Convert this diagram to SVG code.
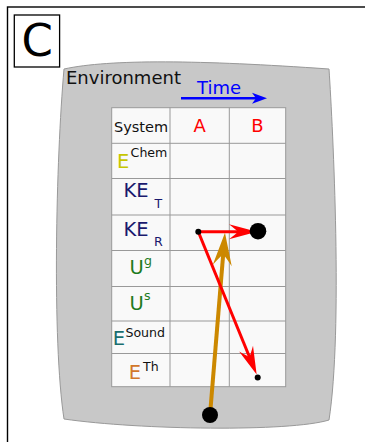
<svg xmlns="http://www.w3.org/2000/svg" width="365" height="442" viewBox="0 0 365 442">
<defs>
<style>
text{font-family:"DejaVu Sans","Liberation Sans",sans-serif}
.grid{stroke:#999;stroke-width:1;fill:none}
.lbl{font-size:19.5px}
.sup{font-size:12.6px}
.red{stroke:#ff0000;stroke-width:3;fill:none}
.gold{stroke:#cc8800;stroke-width:4;fill:none}
</style>
<marker id="ahRed" viewBox="-34 -10 36 20" markerWidth="36" markerHeight="20" refX="-16" refY="0" markerUnits="userSpaceOnUse" orient="auto" overflow="visible">
<path d="M0,0 L-28,-7.5 Q-21,-2 -19,0 Q-21,2 -28,7.5 Z" fill="#ff0000"/>
</marker>
<marker id="ahGold" viewBox="-36 -12 38 24" markerWidth="38" markerHeight="24" refX="-18" refY="0" markerUnits="userSpaceOnUse" orient="auto" overflow="visible">
<path d="M0,0 L-33,-9.5 Q-24,-2.5 -22,0 Q-24,2.5 -33,9.5 Z" fill="#cc8800"/>
</marker>
<marker id="ahBlue" viewBox="-16 -8 18 16" markerWidth="18" markerHeight="16" refX="-8" refY="0" markerUnits="userSpaceOnUse" orient="auto" overflow="visible">
<path d="M0,0 L-15,-5.5 L-11,0 L-15,5.5 Z" fill="#0000ff"/>
</marker>
</defs>
<rect width="365" height="442" fill="#ffffff"/>
<rect x="7.5" y="7" width="420" height="460" fill="#ffffff" stroke="#000" stroke-width="1.4"/>
<g id="panel-label">
<rect x="14.3" y="15" width="45.3" height="52" fill="#ffffff" stroke="#000" stroke-width="1.3"/>
<text x="37.3" y="56" font-size="45" text-anchor="middle" fill="#000">C</text>
</g>
<g id="environment">
<path d="M64,69 C110,59 200,60 329,69 C333,130 343,330 329,420 C290,432 140,430 64,419 C52,340 56,160 64,69 Z" fill="#c8c8c8" stroke="#999" stroke-width="1"/>
<text x="66" y="84" font-size="18" fill="#111">Environment</text>
</g>
<g id="time">
<text x="197" y="94.3" font-size="18" fill="#0000ff">Time</text>
</g>
<g id="table">
<rect x="111.7" y="107.7" width="174" height="279" fill="#f9f9f9" stroke="#999" stroke-width="1"/>
<path class="grid" d="M170,107.7V386.7M229.3,107.7V386.7M111.7,143.3H285.7M111.7,178.5H285.7M111.7,215H285.7M111.7,250.5H285.7M111.7,286.5H285.7M111.7,321H285.7M111.7,353.5H285.7"/>
<text x="141" y="131.7" font-size="14.5" text-anchor="middle" fill="#111">System</text>
<text x="199.7" y="132" font-size="18" text-anchor="middle" fill="#ff0000">A</text>
<text x="257.5" y="132" font-size="18" text-anchor="middle" fill="#ff0000">B</text>
</g>
<g id="row-echem">
<text><tspan class="lbl" x="117.1" y="168.3" fill="#c6c600">E</tspan><tspan class="sup" x="130.6" y="156.7" fill="#111">Chem</tspan></text>
</g>
<g id="row-ket">
<text><tspan class="lbl" x="123.4" y="197.3" fill="#1a1a6e">KE</tspan><tspan class="sup" x="154.6" y="208.3" fill="#1a1a6e">T</tspan></text>
</g>
<g id="row-ker">
<text><tspan class="lbl" x="123.4" y="235.7" fill="#1a1a6e">KE</tspan><tspan class="sup" x="154" y="246" fill="#1a1a6e">R</tspan></text>
</g>
<g id="row-ug">
<text><tspan class="lbl" x="129.6" y="274.3" fill="#1e7b1e">U</tspan><tspan class="sup" x="144" y="264.5" fill="#1e7b1e">g</tspan></text>
</g>
<g id="row-us">
<text><tspan class="lbl" x="129.6" y="310" fill="#1e7b1e">U</tspan><tspan class="sup" x="144.1" y="300" fill="#1e7b1e">s</tspan></text>
</g>
<g id="row-esound">
<text><tspan class="lbl" x="112.8" y="345" fill="#1a6e6e">E</tspan><tspan class="sup" x="125.4" y="336.7" font-size="13" fill="#111">Sound</tspan></text>
</g>
<g id="row-eth">
<text><tspan class="lbl" x="128.8" y="379" fill="#d2772a">E</tspan><tspan class="sup" x="143" y="371" fill="#111">Th</tspan></text>
</g>
<g id="connectors">
<line x1="181" y1="98.3" x2="259" y2="98.3" stroke="#0000ff" stroke-width="2.5" marker-end="url(#ahBlue)"/>
<line class="gold" x1="210" y1="415" x2="223.5" y2="250.6" marker-end="url(#ahGold)"/>
<line class="red" x1="198.3" y1="231.7" x2="241" y2="231.7" marker-end="url(#ahRed)"/>
<line class="red" x1="198.3" y1="231.7" x2="250.6" y2="359.7" marker-end="url(#ahRed)"/>
</g>
<g id="dots" fill="#000">
<circle cx="198.3" cy="231.7" r="3"/>
<circle cx="258" cy="231.2" r="8.3"/>
<circle cx="257.7" cy="377.5" r="3"/>
<circle cx="210" cy="415" r="8"/>
</g>
</svg>
